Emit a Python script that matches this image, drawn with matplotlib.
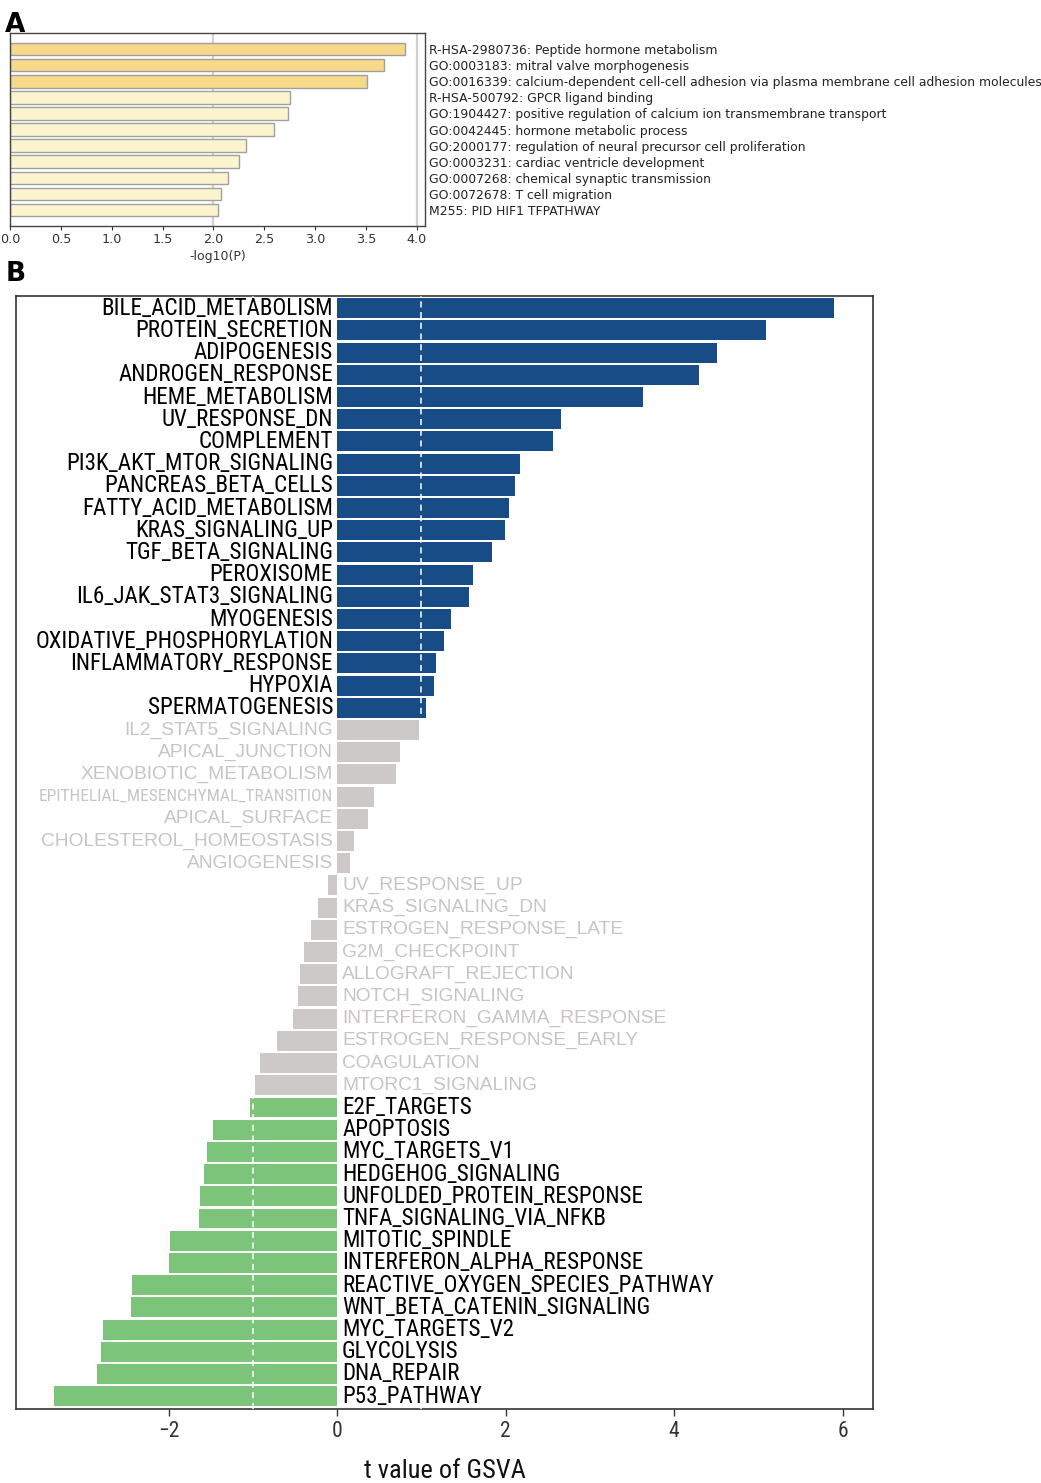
import matplotlib
matplotlib.use("Agg")
import matplotlib.pyplot as plt
from matplotlib import font_manager
from matplotlib.font_manager import FontProperties
import matplotlib.transforms as mtransforms

# ---------------- data: panel A ----------------
termsA = [
    "R-HSA-2980736: Peptide hormone metabolism",
    "GO:0003183: mitral valve morphogenesis",
    "GO:0016339: calcium-dependent cell-cell adhesion via plasma membrane cell adhesion molecules",
    "R-HSA-500792: GPCR ligand binding",
    "GO:1904427: positive regulation of calcium ion transmembrane transport",
    "GO:0042445: hormone metabolic process",
    "GO:2000177: regulation of neural precursor cell proliferation",
    "GO:0003231: cardiac ventricle development",
    "GO:0007268: chemical synaptic transmission",
    "GO:0072678: T cell migration",
    "M255: PID HIF1 TFPATHWAY",
]
logpA = [3.88, 3.68, 3.51, 2.75, 2.73, 2.60, 2.32, 2.25, 2.14, 2.07, 2.04]
xticksA = [0.0, 0.5, 1.0, 1.5, 2.0, 2.5, 3.0, 3.5, 4.0]

# ---------------- data: panel B ----------------
pathwaysB = [
    "BILE_ACID_METABOLISM", "PROTEIN_SECRETION", "ADIPOGENESIS", "ANDROGEN_RESPONSE",
    "HEME_METABOLISM", "UV_RESPONSE_DN", "COMPLEMENT", "PI3K_AKT_MTOR_SIGNALING",
    "PANCREAS_BETA_CELLS", "FATTY_ACID_METABOLISM", "KRAS_SIGNALING_UP", "TGF_BETA_SIGNALING",
    "PEROXISOME", "IL6_JAK_STAT3_SIGNALING", "MYOGENESIS", "OXIDATIVE_PHOSPHORYLATION",
    "INFLAMMATORY_RESPONSE", "HYPOXIA", "SPERMATOGENESIS", "IL2_STAT5_SIGNALING",
    "APICAL_JUNCTION", "XENOBIOTIC_METABOLISM", "EPITHELIAL_MESENCHYMAL_TRANSITION",
    "APICAL_SURFACE", "CHOLESTEROL_HOMEOSTASIS", "ANGIOGENESIS", "UV_RESPONSE_UP",
    "KRAS_SIGNALING_DN", "ESTROGEN_RESPONSE_LATE", "G2M_CHECKPOINT", "ALLOGRAFT_REJECTION",
    "NOTCH_SIGNALING", "INTERFERON_GAMMA_RESPONSE", "ESTROGEN_RESPONSE_EARLY", "COAGULATION",
    "MTORC1_SIGNALING", "E2F_TARGETS", "APOPTOSIS", "MYC_TARGETS_V1", "HEDGEHOG_SIGNALING",
    "UNFOLDED_PROTEIN_RESPONSE", "TNFA_SIGNALING_VIA_NFKB", "MITOTIC_SPINDLE",
    "INTERFERON_ALPHA_RESPONSE", "REACTIVE_OXYGEN_SPECIES_PATHWAY", "WNT_BETA_CATENIN_SIGNALING",
    "MYC_TARGETS_V2", "GLYCOLYSIS", "DNA_REPAIR", "P53_PATHWAY",
]
tvalsB = [
    5.90, 5.09, 4.51, 4.29, 3.63, 2.66, 2.56, 2.17, 2.11, 2.04, 1.99, 1.84,
    1.61, 1.57, 1.35, 1.27, 1.17, 1.15, 1.06, 0.97, 0.75, 0.70, 0.44, 0.37,
    0.20, 0.15, -0.11, -0.23, -0.31, -0.39, -0.44, -0.46, -0.52, -0.71, -0.91,
    -0.97, -1.03, -1.47, -1.54, -1.58, -1.63, -1.64, -1.98, -1.99, -2.43, -2.44,
    -2.78, -2.80, -2.85, -3.36,
]
xticksB = [-2, 0, 2, 4, 6]
threshold = 1.0

# ---------------- fonts: look for a narrow / condensed sans ----------------
ttf = font_manager.fontManager.ttflist
narrow_fp = None
is_narrow = False
for want in ["Liberation Sans Narrow", "Arial Narrow", "Roboto Condensed",
             "Open Sans Condensed", "DejaVu Sans Condensed", "Noto Sans Condensed"]:
    cands = [f for f in ttf if f.name == want and str(f.weight) in ("400", "normal", "regular", "book")
             and f.style == "normal"]
    if cands:
        narrow_fp = FontProperties(fname=cands[0].fname)
        is_narrow = True
        break
if narrow_fp is None:
    cands = [f for f in ttf if f.stretch in ("condensed", "semi-condensed", "extra-condensed")
             and f.style == "normal" and str(f.weight) in ("400", "normal", "regular", "book")]
    if cands:
        narrow_fp = FontProperties(fname=cands[0].fname)
        is_narrow = True
if narrow_fp is None:
    narrow_fp = FontProperties(family="Liberation Sans")

def nfp(size):
    fp = narrow_fp.copy()
    fp.set_size(size)
    return fp

scale = 1.0 if is_narrow else 0.86

fig = plt.figure(figsize=(10.41, 14.83), dpi=100)

# ---------------- panel A ----------------
axA = fig.add_axes([0.0096, 0.8476, 0.3987, 0.1301])
colA = ["#F7D98A" if v >= 3.0 else "#FCF4CF" for v in logpA]
yA = list(range(len(termsA)))
axA.axvline(2.0, color="#D0D0D0", lw=1.6, zorder=0)
axA.axvline(4.0, color="#D0D0D0", lw=1.6, zorder=0)
axA.barh(yA, logpA, height=0.78, color=colA, edgecolor="#A0A0A0", linewidth=1.0, zorder=2)
axA.set_xlim(0, 4.08)
axA.set_ylim(len(termsA), -1)
axA.set_xticks(xticksA)
axA.set_xticklabels([f"{t:.1f}" for t in xticksA], fontsize=9.2, family="DejaVu Sans", color="#333333")
axA.tick_params(axis="x", length=3, width=0.8, color="#333333", pad=2)
axA.yaxis.tick_right()
axA.set_yticks(yA)
axA.set_yticklabels(termsA, fontsize=8.9, family="DejaVu Sans", color="#222222")
axA.tick_params(axis="y", length=0, pad=3)
axA.set_xlabel("-log10(P)", fontsize=9.0, family="DejaVu Sans", color="#333333", labelpad=3)
for s in axA.spines.values():
    s.set_color("#444444")
    s.set_linewidth(1.0)

fig.text(0.005, 0.983, "A", fontsize=19, fontweight="bold", family="DejaVu Sans", va="center")
fig.text(0.005, 0.8155, "B", fontsize=19, fontweight="bold", family="DejaVu Sans", va="center")

# ---------------- panel B ----------------
axB = fig.add_axes([0.0154, 0.0499, 0.8232, 0.7505])
yB = list(range(len(pathwaysB)))
colB = []
for t in tvalsB:
    if t > threshold:
        colB.append("#174C86")
    elif t < -threshold:
        colB.append("#7DC47B")
    else:
        colB.append("#CDC9C9")
axB.barh(yB, tvalsB, height=0.9, color=colB, edgecolor="none", zorder=2)
axB.axvline(threshold, color="white", lw=1.1, ls=(0, (4, 3)), zorder=3)
axB.axvline(-threshold, color="white", lw=1.1, ls=(0, (4, 3)), zorder=3)
axB.set_xlim(-3.81, 6.36)
axB.set_ylim(len(pathwaysB) - 0.42, -0.55)
axB.set_yticks([])
axB.set_xticks(xticksB)
axB.set_xticklabels(["\u22122" if t < 0 else str(t) for t in xticksB], fontproperties=nfp(15.5 * scale),
                    color="#333333")
axB.tick_params(axis="x", length=5, width=1.0, color="#333333", pad=4)
axB.set_xlabel("t value of GSVA", fontproperties=nfp(19 * scale), color="#111111", labelpad=12)
for s in axB.spines.values():
    s.set_color("#333333")
    s.set_linewidth(1.2)

left_off = mtransforms.offset_copy(axB.transData, fig=fig, x=-4, y=0, units="dots")
right_off = mtransforms.offset_copy(axB.transData, fig=fig, x=5, y=0, units="dots")
for i, (name, t) in enumerate(zip(pathwaysB, tvalsB)):
    sig = abs(t) > threshold
    tc = "#000000" if sig else "#C8C4C4"
    if sig:
        fp = nfp(16.6 * scale)
    else:
        fp = FontProperties(family="Liberation Sans", size=13.8)
    if name == "EPITHELIAL_MESENCHYMAL_TRANSITION":
        fp = nfp(12.5 * scale)
    if t >= 0:
        axB.text(0, i, name, transform=left_off, ha="right", va="center",
                 fontproperties=fp, color=tc, zorder=4)
    else:
        axB.text(0, i, name, transform=right_off, ha="left", va="center",
                 fontproperties=fp, color=tc, zorder=4)

fig.savefig("out.png", dpi=100)
